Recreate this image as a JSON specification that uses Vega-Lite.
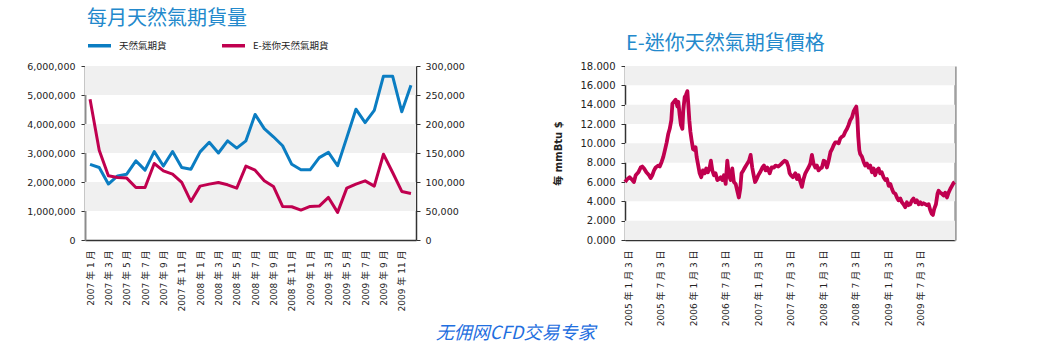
{
  "$schema": "https://vega.github.io/schema/vega-lite/v6.json",
  "background": "white",
  "padding": {"left": 26, "top": 9, "right": 5, "bottom": 2},
  "config": {
    "view": {"stroke": null},
    "font": "DejaVu Sans, Noto Sans CJK TC",
    "axis": {"grid": false, "labelFont": "DejaVu Sans, Noto Sans CJK TC", "labelColor": "#222222", "titleFont": "DejaVu Sans, Noto Sans CJK TC"}
  },
  "datasets": {
    "volume": [
      {"month": "2007 年 1 月", "ng": 2610000, "emini": 242600},
      {"month": "2007 年 2 月", "ng": 2500000, "emini": 154800},
      {"month": "2007 年 3 月", "ng": 1930000, "emini": 110700},
      {"month": "2007 年 4 月", "ng": 2210000, "emini": 107800},
      {"month": "2007 年 5 月", "ng": 2270000, "emini": 106700},
      {"month": "2007 年 6 月", "ng": 2730000, "emini": 90600},
      {"month": "2007 年 7 月", "ng": 2410000, "emini": 90600},
      {"month": "2007 年 8 月", "ng": 3050000, "emini": 131900},
      {"month": "2007 年 9 月", "ng": 2550000, "emini": 119300},
      {"month": "2007 年 10 月", "ng": 3050000, "emini": 113500},
      {"month": "2007 年 11 月", "ng": 2500000, "emini": 99200},
      {"month": "2007 年 12 月", "ng": 2440000, "emini": 66500},
      {"month": "2008 年 1 月", "ng": 3040000, "emini": 92900},
      {"month": "2008 年 2 月", "ng": 3370000, "emini": 96300},
      {"month": "2008 年 3 月", "ng": 3000000, "emini": 99200},
      {"month": "2008 年 4 月", "ng": 3420000, "emini": 95200},
      {"month": "2008 年 5 月", "ng": 3170000, "emini": 89400},
      {"month": "2008 年 6 月", "ng": 3420000, "emini": 127300},
      {"month": "2008 年 7 月", "ng": 4330000, "emini": 120400},
      {"month": "2008 年 8 月", "ng": 3840000, "emini": 102000},
      {"month": "2008 年 9 月", "ng": 3560000, "emini": 92300},
      {"month": "2008 年 10 月", "ng": 3250000, "emini": 57900},
      {"month": "2008 年 11 月", "ng": 2610000, "emini": 57300},
      {"month": "2008 年 12 月", "ng": 2420000, "emini": 51600},
      {"month": "2009 年 1 月", "ng": 2420000, "emini": 57900},
      {"month": "2009 年 2 月", "ng": 2840000, "emini": 58500},
      {"month": "2009 年 3 月", "ng": 3020000, "emini": 73400},
      {"month": "2009 年 4 月", "ng": 2560000, "emini": 47600},
      {"month": "2009 年 5 月", "ng": 3530000, "emini": 89400},
      {"month": "2009 年 6 月", "ng": 4510000, "emini": 96300},
      {"month": "2009 年 7 月", "ng": 4050000, "emini": 102000},
      {"month": "2009 年 8 月", "ng": 4470000, "emini": 92900},
      {"month": "2009 年 9 月", "ng": 5650000, "emini": 147900},
      {"month": "2009 年 10 月", "ng": 5650000, "emini": 116400},
      {"month": "2009 年 11 月", "ng": 4420000, "emini": 83700},
      {"month": "2009 年 12 月", "ng": 5340000, "emini": 80300}
    ],
    "bandsLeft": [
      {"lo": 1000000, "hi": 2000000},
      {"lo": 3000000, "hi": 4000000},
      {"lo": 5000000, "hi": 6000000}
    ],
    "bandsRight": [
      {"lo": 0, "hi": 2},
      {"lo": 4, "hi": 6},
      {"lo": 8, "hi": 10},
      {"lo": 12, "hi": 14},
      {"lo": 16, "hi": 18}
    ],
    "price": [
      {"date": "2005-01-03", "price": 6.0},
      {"date": "2005-01-16", "price": 6.3},
      {"date": "2005-01-29", "price": 6.5},
      {"date": "2005-02-13", "price": 6.2},
      {"date": "2005-02-22", "price": 6.0},
      {"date": "2005-03-04", "price": 6.7},
      {"date": "2005-03-19", "price": 7.0},
      {"date": "2005-04-01", "price": 7.5},
      {"date": "2005-04-10", "price": 7.6},
      {"date": "2005-04-20", "price": 7.4},
      {"date": "2005-05-03", "price": 7.0},
      {"date": "2005-05-18", "price": 6.7},
      {"date": "2005-05-27", "price": 6.4},
      {"date": "2005-06-05", "price": 6.7},
      {"date": "2005-06-15", "price": 7.2},
      {"date": "2005-06-24", "price": 7.5},
      {"date": "2005-07-09", "price": 7.7},
      {"date": "2005-07-17", "price": 7.6},
      {"date": "2005-07-28", "price": 8.1},
      {"date": "2005-08-06", "price": 8.6},
      {"date": "2005-08-15", "price": 9.3},
      {"date": "2005-08-25", "price": 10.1},
      {"date": "2005-09-03", "price": 11.0},
      {"date": "2005-09-11", "price": 11.5},
      {"date": "2005-09-20", "price": 12.4},
      {"date": "2005-09-26", "price": 14.1},
      {"date": "2005-10-05", "price": 14.3},
      {"date": "2005-10-14", "price": 14.5},
      {"date": "2005-10-24", "price": 13.8},
      {"date": "2005-10-29", "price": 14.3},
      {"date": "2005-11-06", "price": 12.9},
      {"date": "2005-11-13", "price": 11.9},
      {"date": "2005-11-21", "price": 11.5},
      {"date": "2005-11-26", "price": 13.4},
      {"date": "2005-12-04", "price": 14.8},
      {"date": "2005-12-11", "price": 15.0},
      {"date": "2005-12-19", "price": 15.4},
      {"date": "2005-12-24", "price": 14.1},
      {"date": "2005-12-30", "price": 12.4},
      {"date": "2006-01-05", "price": 11.2},
      {"date": "2006-01-12", "price": 10.3},
      {"date": "2006-01-20", "price": 9.4},
      {"date": "2006-01-29", "price": 9.3},
      {"date": "2006-02-03", "price": 9.6},
      {"date": "2006-02-09", "price": 8.6},
      {"date": "2006-02-16", "price": 7.9},
      {"date": "2006-02-26", "price": 6.9},
      {"date": "2006-03-07", "price": 6.5},
      {"date": "2006-03-16", "price": 7.2},
      {"date": "2006-03-26", "price": 6.9},
      {"date": "2006-04-04", "price": 7.4},
      {"date": "2006-04-13", "price": 7.0},
      {"date": "2006-04-23", "price": 7.5},
      {"date": "2006-04-30", "price": 8.2},
      {"date": "2006-05-08", "price": 7.2},
      {"date": "2006-05-17", "price": 6.7},
      {"date": "2006-05-26", "price": 6.9},
      {"date": "2006-06-05", "price": 6.2},
      {"date": "2006-06-14", "price": 6.3},
      {"date": "2006-06-24", "price": 6.5},
      {"date": "2006-07-03", "price": 6.2},
      {"date": "2006-07-12", "price": 6.7},
      {"date": "2006-07-22", "price": 5.8},
      {"date": "2006-07-31", "price": 8.2},
      {"date": "2006-08-09", "price": 6.7},
      {"date": "2006-08-19", "price": 6.2},
      {"date": "2006-08-28", "price": 7.4},
      {"date": "2006-09-06", "price": 6.0},
      {"date": "2006-09-16", "price": 5.8},
      {"date": "2006-09-25", "price": 5.1},
      {"date": "2006-10-04", "price": 4.4},
      {"date": "2006-10-12", "price": 5.3},
      {"date": "2006-10-19", "price": 6.9},
      {"date": "2006-10-29", "price": 7.2},
      {"date": "2006-11-07", "price": 7.5},
      {"date": "2006-11-20", "price": 7.9},
      {"date": "2006-11-30", "price": 8.2},
      {"date": "2006-12-09", "price": 8.8},
      {"date": "2006-12-18", "price": 7.5},
      {"date": "2006-12-24", "price": 6.9},
      {"date": "2007-01-03", "price": 6.0},
      {"date": "2007-01-12", "price": 6.3},
      {"date": "2007-01-21", "price": 6.7},
      {"date": "2007-01-31", "price": 7.0},
      {"date": "2007-02-13", "price": 7.5},
      {"date": "2007-02-22", "price": 7.7},
      {"date": "2007-03-03", "price": 7.2},
      {"date": "2007-03-13", "price": 7.5},
      {"date": "2007-03-26", "price": 6.9},
      {"date": "2007-04-06", "price": 7.5},
      {"date": "2007-04-19", "price": 7.5},
      {"date": "2007-04-28", "price": 7.7},
      {"date": "2007-05-13", "price": 7.6},
      {"date": "2007-05-26", "price": 7.8},
      {"date": "2007-06-05", "price": 8.0},
      {"date": "2007-06-18", "price": 8.2},
      {"date": "2007-06-29", "price": 8.1},
      {"date": "2007-07-09", "price": 7.6},
      {"date": "2007-07-16", "price": 6.9},
      {"date": "2007-07-23", "price": 6.7},
      {"date": "2007-08-03", "price": 6.5},
      {"date": "2007-08-17", "price": 6.9},
      {"date": "2007-08-26", "price": 6.3},
      {"date": "2007-09-04", "price": 6.7},
      {"date": "2007-09-14", "price": 6.0},
      {"date": "2007-09-23", "price": 5.5},
      {"date": "2007-10-02", "price": 6.3},
      {"date": "2007-10-12", "price": 6.9},
      {"date": "2007-10-21", "price": 7.2},
      {"date": "2007-10-30", "price": 7.5},
      {"date": "2007-11-09", "price": 7.9},
      {"date": "2007-11-18", "price": 8.8},
      {"date": "2007-11-27", "price": 7.9},
      {"date": "2007-12-07", "price": 7.5},
      {"date": "2007-12-16", "price": 7.7},
      {"date": "2007-12-25", "price": 7.2},
      {"date": "2008-01-04", "price": 7.4},
      {"date": "2008-01-13", "price": 7.5},
      {"date": "2008-01-23", "price": 8.2},
      {"date": "2008-02-01", "price": 8.1},
      {"date": "2008-02-10", "price": 7.5},
      {"date": "2008-02-20", "price": 8.2},
      {"date": "2008-03-01", "price": 9.1},
      {"date": "2008-03-10", "price": 9.4},
      {"date": "2008-03-19", "price": 9.8},
      {"date": "2008-03-28", "price": 10.1},
      {"date": "2008-04-07", "price": 10.1},
      {"date": "2008-04-16", "price": 10.0},
      {"date": "2008-04-25", "price": 10.5},
      {"date": "2008-05-05", "price": 10.7},
      {"date": "2008-05-14", "price": 10.8},
      {"date": "2008-05-23", "price": 11.2},
      {"date": "2008-06-02", "price": 11.5},
      {"date": "2008-06-11", "price": 11.9},
      {"date": "2008-06-20", "price": 12.4},
      {"date": "2008-06-30", "price": 12.7},
      {"date": "2008-07-09", "price": 13.3},
      {"date": "2008-07-18", "price": 13.6},
      {"date": "2008-07-24", "price": 13.8},
      {"date": "2008-07-30", "price": 12.6},
      {"date": "2008-08-04", "price": 10.7},
      {"date": "2008-08-10", "price": 9.3},
      {"date": "2008-08-15", "price": 8.9},
      {"date": "2008-08-25", "price": 8.6},
      {"date": "2008-09-03", "price": 8.1},
      {"date": "2008-09-12", "price": 7.7},
      {"date": "2008-09-22", "price": 7.9},
      {"date": "2008-10-01", "price": 7.5},
      {"date": "2008-10-10", "price": 7.7},
      {"date": "2008-10-20", "price": 7.0},
      {"date": "2008-10-29", "price": 7.4},
      {"date": "2008-11-07", "price": 6.7},
      {"date": "2008-11-16", "price": 7.2},
      {"date": "2008-11-26", "price": 7.4},
      {"date": "2008-12-05", "price": 6.9},
      {"date": "2008-12-14", "price": 7.0},
      {"date": "2008-12-24", "price": 6.5},
      {"date": "2009-01-03", "price": 6.2},
      {"date": "2009-01-12", "price": 6.3},
      {"date": "2009-01-22", "price": 5.6},
      {"date": "2009-01-31", "price": 5.8},
      {"date": "2009-02-09", "price": 5.3},
      {"date": "2009-02-18", "price": 4.9},
      {"date": "2009-02-28", "price": 4.8},
      {"date": "2009-03-09", "price": 4.4},
      {"date": "2009-03-18", "price": 4.1},
      {"date": "2009-03-28", "price": 4.3},
      {"date": "2009-04-06", "price": 3.9},
      {"date": "2009-04-15", "price": 3.7},
      {"date": "2009-04-25", "price": 3.4},
      {"date": "2009-05-04", "price": 3.9},
      {"date": "2009-05-13", "price": 3.6},
      {"date": "2009-05-23", "price": 3.7},
      {"date": "2009-06-01", "price": 4.1},
      {"date": "2009-06-10", "price": 4.3},
      {"date": "2009-06-20", "price": 3.9},
      {"date": "2009-06-29", "price": 4.1},
      {"date": "2009-07-09", "price": 3.7},
      {"date": "2009-07-18", "price": 3.9},
      {"date": "2009-07-27", "price": 3.7},
      {"date": "2009-08-06", "price": 3.8},
      {"date": "2009-08-15", "price": 3.7},
      {"date": "2009-08-24", "price": 3.6},
      {"date": "2009-09-03", "price": 3.7},
      {"date": "2009-09-12", "price": 3.1},
      {"date": "2009-09-21", "price": 2.7},
      {"date": "2009-09-27", "price": 2.6},
      {"date": "2009-10-04", "price": 3.2},
      {"date": "2009-10-14", "price": 3.7},
      {"date": "2009-10-23", "price": 4.8},
      {"date": "2009-10-29", "price": 5.1},
      {"date": "2009-11-07", "price": 4.9},
      {"date": "2009-11-16", "price": 4.8},
      {"date": "2009-11-26", "price": 4.6},
      {"date": "2009-12-05", "price": 4.9},
      {"date": "2009-12-15", "price": 4.4},
      {"date": "2009-12-24", "price": 4.9},
      {"date": "2010-01-03", "price": 5.3},
      {"date": "2010-01-12", "price": 5.6},
      {"date": "2010-01-21", "price": 5.9},
      {"date": "2010-01-27", "price": 6.0}
    ]
  },
  "title": {
    "text": "无佣网CFD交易专家",
    "orient": "bottom",
    "anchor": "middle",
    "font": "Noto Sans CJK SC",
    "fontSize": 18,
    "fontStyle": "italic",
    "fontWeight": "normal",
    "color": "#1f6fe0",
    "offset": -1,
    "dx": 24
  },
  "bounds": "flush",
  "spacing": 209,
  "hconcat": [
    {
      "width": 331,
      "height": 174,
      "title": {
        "text": "每月天然氣期貨量",
        "anchor": "start",
        "frame": "group",
        "font": "Noto Sans CJK TC",
        "fontSize": 20,
        "fontWeight": "normal",
        "color": "#2389cc",
        "dx": 2,
        "offset": 32
      },
      "layer": [
        {
          "data": {"name": "bandsLeft"},
          "mark": {"type": "rect", "color": "#f0f0f0"},
          "encoding": {
            "y": {"field": "lo", "type": "quantitative", "scale": {"domain": [0, 6000000], "nice": false}, "axis": null},
            "y2": {"field": "hi"}
          }
        },
        {
          "data": {"name": "volume"},
          "mark": {"type": "line", "strokeWidth": 3, "strokeJoin": "round"},
          "encoding": {
            "x": {
              "field": "month", "type": "ordinal", "sort": null,
              "scale": {"type": "point", "padding": 0.55},
              "axis": {
                "title": null,
                "values": ["2007 年 1 月", "2007 年 3 月", "2007 年 5 月", "2007 年 7 月", "2007 年 9 月", "2007 年 11 月", "2008 年 1 月", "2008 年 3 月", "2008 年 5 月", "2008 年 7 月", "2008 年 9 月", "2008 年 11 月", "2009 年 1 月", "2009 年 3 月", "2009 年 5 月", "2009 年 7 月", "2009 年 9 月", "2009 年 11 月"],
                "labelAngle": 270,
                "ticks": false,
                "tickSize": 0,
                "labelPadding": 10,
                "labelFontSize": 9,
                "labelOverlap": false,
                "domainColor": "#333333",
                "domainWidth": 1.5
              }
            },
            "y": {
              "field": "ng", "type": "quantitative",
              "scale": {"domain": [0, 6000000], "nice": false},
              "axis": {
                "orient": "left", "title": null,
                "values": [0, 1000000, 2000000, 3000000, 4000000, 5000000, 6000000],
                "format": ",d", "labelFontSize": 9.5, "labelPadding": 6,
                "tickSize": 4, "tickColor": "#333333",
                "domainColor": "#8c8c8c", "domainWidth": 2
              }
            },
            "color": {
              "datum": "天然氣期貨", "type": "nominal",
              "scale": {"domain": ["天然氣期貨", "E-迷你天然氣期貨"], "range": ["#0b7dc2", "#c0004f"]},
              "legend": {
                "orient": "none", "legendX": 1, "legendY": -34, "direction": "horizontal",
                "title": null, "symbolType": "stroke", "symbolSize": 529, "symbolStrokeWidth": 3.5,
                "labelFont": "Noto Sans CJK TC", "labelFontSize": 9.5, "labelColor": "#222222",
                "labelOffset": 6, "columnPadding": 48
              }
            }
          }
        },
        {
          "data": {"name": "volume"},
          "mark": {"type": "line", "strokeWidth": 3, "strokeJoin": "round"},
          "encoding": {
            "x": {
              "field": "month", "type": "ordinal", "sort": null,
              "scale": {"type": "point", "padding": 0.55},
              "axis": {
                "title": null,
                "values": ["2007 年 1 月", "2007 年 3 月", "2007 年 5 月", "2007 年 7 月", "2007 年 9 月", "2007 年 11 月", "2008 年 1 月", "2008 年 3 月", "2008 年 5 月", "2008 年 7 月", "2008 年 9 月", "2008 年 11 月", "2009 年 1 月", "2009 年 3 月", "2009 年 5 月", "2009 年 7 月", "2009 年 9 月", "2009 年 11 月"],
                "labelAngle": 270,
                "ticks": false,
                "tickSize": 0,
                "labelPadding": 10,
                "labelFontSize": 9,
                "labelOverlap": false,
                "domainColor": "#333333",
                "domainWidth": 1.5
              }
            },
            "y": {
              "field": "emini", "type": "quantitative",
              "scale": {"domain": [0, 300000], "nice": false},
              "axis": {
                "orient": "right", "title": null,
                "values": [0, 50000, 100000, 150000, 200000, 250000, 300000],
                "format": ",d", "labelFontSize": 9.5, "labelPadding": 5,
                "tickSize": 4, "tickColor": "#333333",
                "domainColor": "#333333", "domainWidth": 1.5
              }
            },
            "color": {
              "datum": "E-迷你天然氣期貨", "type": "nominal",
              "scale": {"domain": ["天然氣期貨", "E-迷你天然氣期貨"], "range": ["#0b7dc2", "#c0004f"]},
              "legend": {
                "orient": "none", "legendX": 1, "legendY": -34, "direction": "horizontal",
                "title": null, "symbolType": "stroke", "symbolSize": 529, "symbolStrokeWidth": 3.5,
                "labelFont": "Noto Sans CJK TC", "labelFontSize": 9.5, "labelColor": "#222222",
                "labelOffset": 6, "columnPadding": 48
              }
            }
          }
        }
      ],
      "resolve": {"scale": {"y": "independent"}, "axis": {"y": "independent"}}
    },
    {
      "width": 330,
      "height": 174,
      "title": {
        "text": "E-迷你天然氣期貨價格",
        "anchor": "start",
        "frame": "group",
        "font": "Noto Sans CJK TC",
        "fontSize": 20,
        "fontWeight": "normal",
        "color": "#2389cc",
        "dx": 1,
        "offset": 7
      },
      "layer": [
        {
          "data": {"name": "bandsRight"},
          "mark": {"type": "rect", "color": "#f0f0f0"},
          "encoding": {
            "y": {
              "field": "lo", "type": "quantitative",
              "scale": {"domain": [0, 18], "nice": false},
              "axis": {"orient": "right", "title": null, "labels": false, "ticks": false, "domainColor": "#a0a0a0", "domainWidth": 2.5}
            },
            "y2": {"field": "hi"}
          }
        },
        {
          "data": {"name": "price"},
          "mark": {"type": "line", "color": "#c0004f", "strokeWidth": 3.8, "strokeJoin": "round"},
          "encoding": {
            "x": {
              "field": "date", "type": "temporal",
              "scale": {"type": "utc", "domain": [{"year": 2005, "month": 1, "date": 3, "utc": true}, {"year": 2010, "month": 1, "date": 29, "utc": true}]},
              "axis": {
                "title": null,
                "values": [
                  {"year": 2005, "month": 1, "date": 3, "utc": true},
                  {"year": 2005, "month": 7, "date": 3, "utc": true},
                  {"year": 2006, "month": 1, "date": 3, "utc": true},
                  {"year": 2006, "month": 7, "date": 3, "utc": true},
                  {"year": 2007, "month": 1, "date": 3, "utc": true},
                  {"year": 2007, "month": 7, "date": 3, "utc": true},
                  {"year": 2008, "month": 1, "date": 3, "utc": true},
                  {"year": 2008, "month": 7, "date": 3, "utc": true},
                  {"year": 2009, "month": 1, "date": 3, "utc": true},
                  {"year": 2009, "month": 7, "date": 3, "utc": true}
                ],
                "format": "%Y 年 %-m 月 %-d 日",
                "labelAngle": 270,
                "ticks": false,
                "tickSize": 0,
                "labelPadding": 10,
                "labelOffset": 3,
                "labelFontSize": 9,
                "labelOverlap": false,
                "labelFlush": false,
                "domainColor": "#333333",
                "domainWidth": 1.5
              }
            },
            "y": {
              "field": "price", "type": "quantitative",
              "scale": {"domain": [0, 18], "nice": false},
              "axis": {
                "orient": "left",
                "title": "每 mmBtu $",
                "titleFontSize": 10, "titleFontWeight": "bold", "titleColor": "#222222", "titlePadding": 17,
                "values": [0, 2, 4, 6, 8, 10, 12, 14, 16, 18],
                "format": ".3f", "labelFontSize": 10, "labelPadding": 6,
                "tickSize": 4, "tickColor": "#333333",
                "domainColor": "#333333", "domainWidth": 1.5
              }
            }
          }
        }
      ],
      "resolve": {"axis": {"y": "independent"}}
    }
  ]
}
